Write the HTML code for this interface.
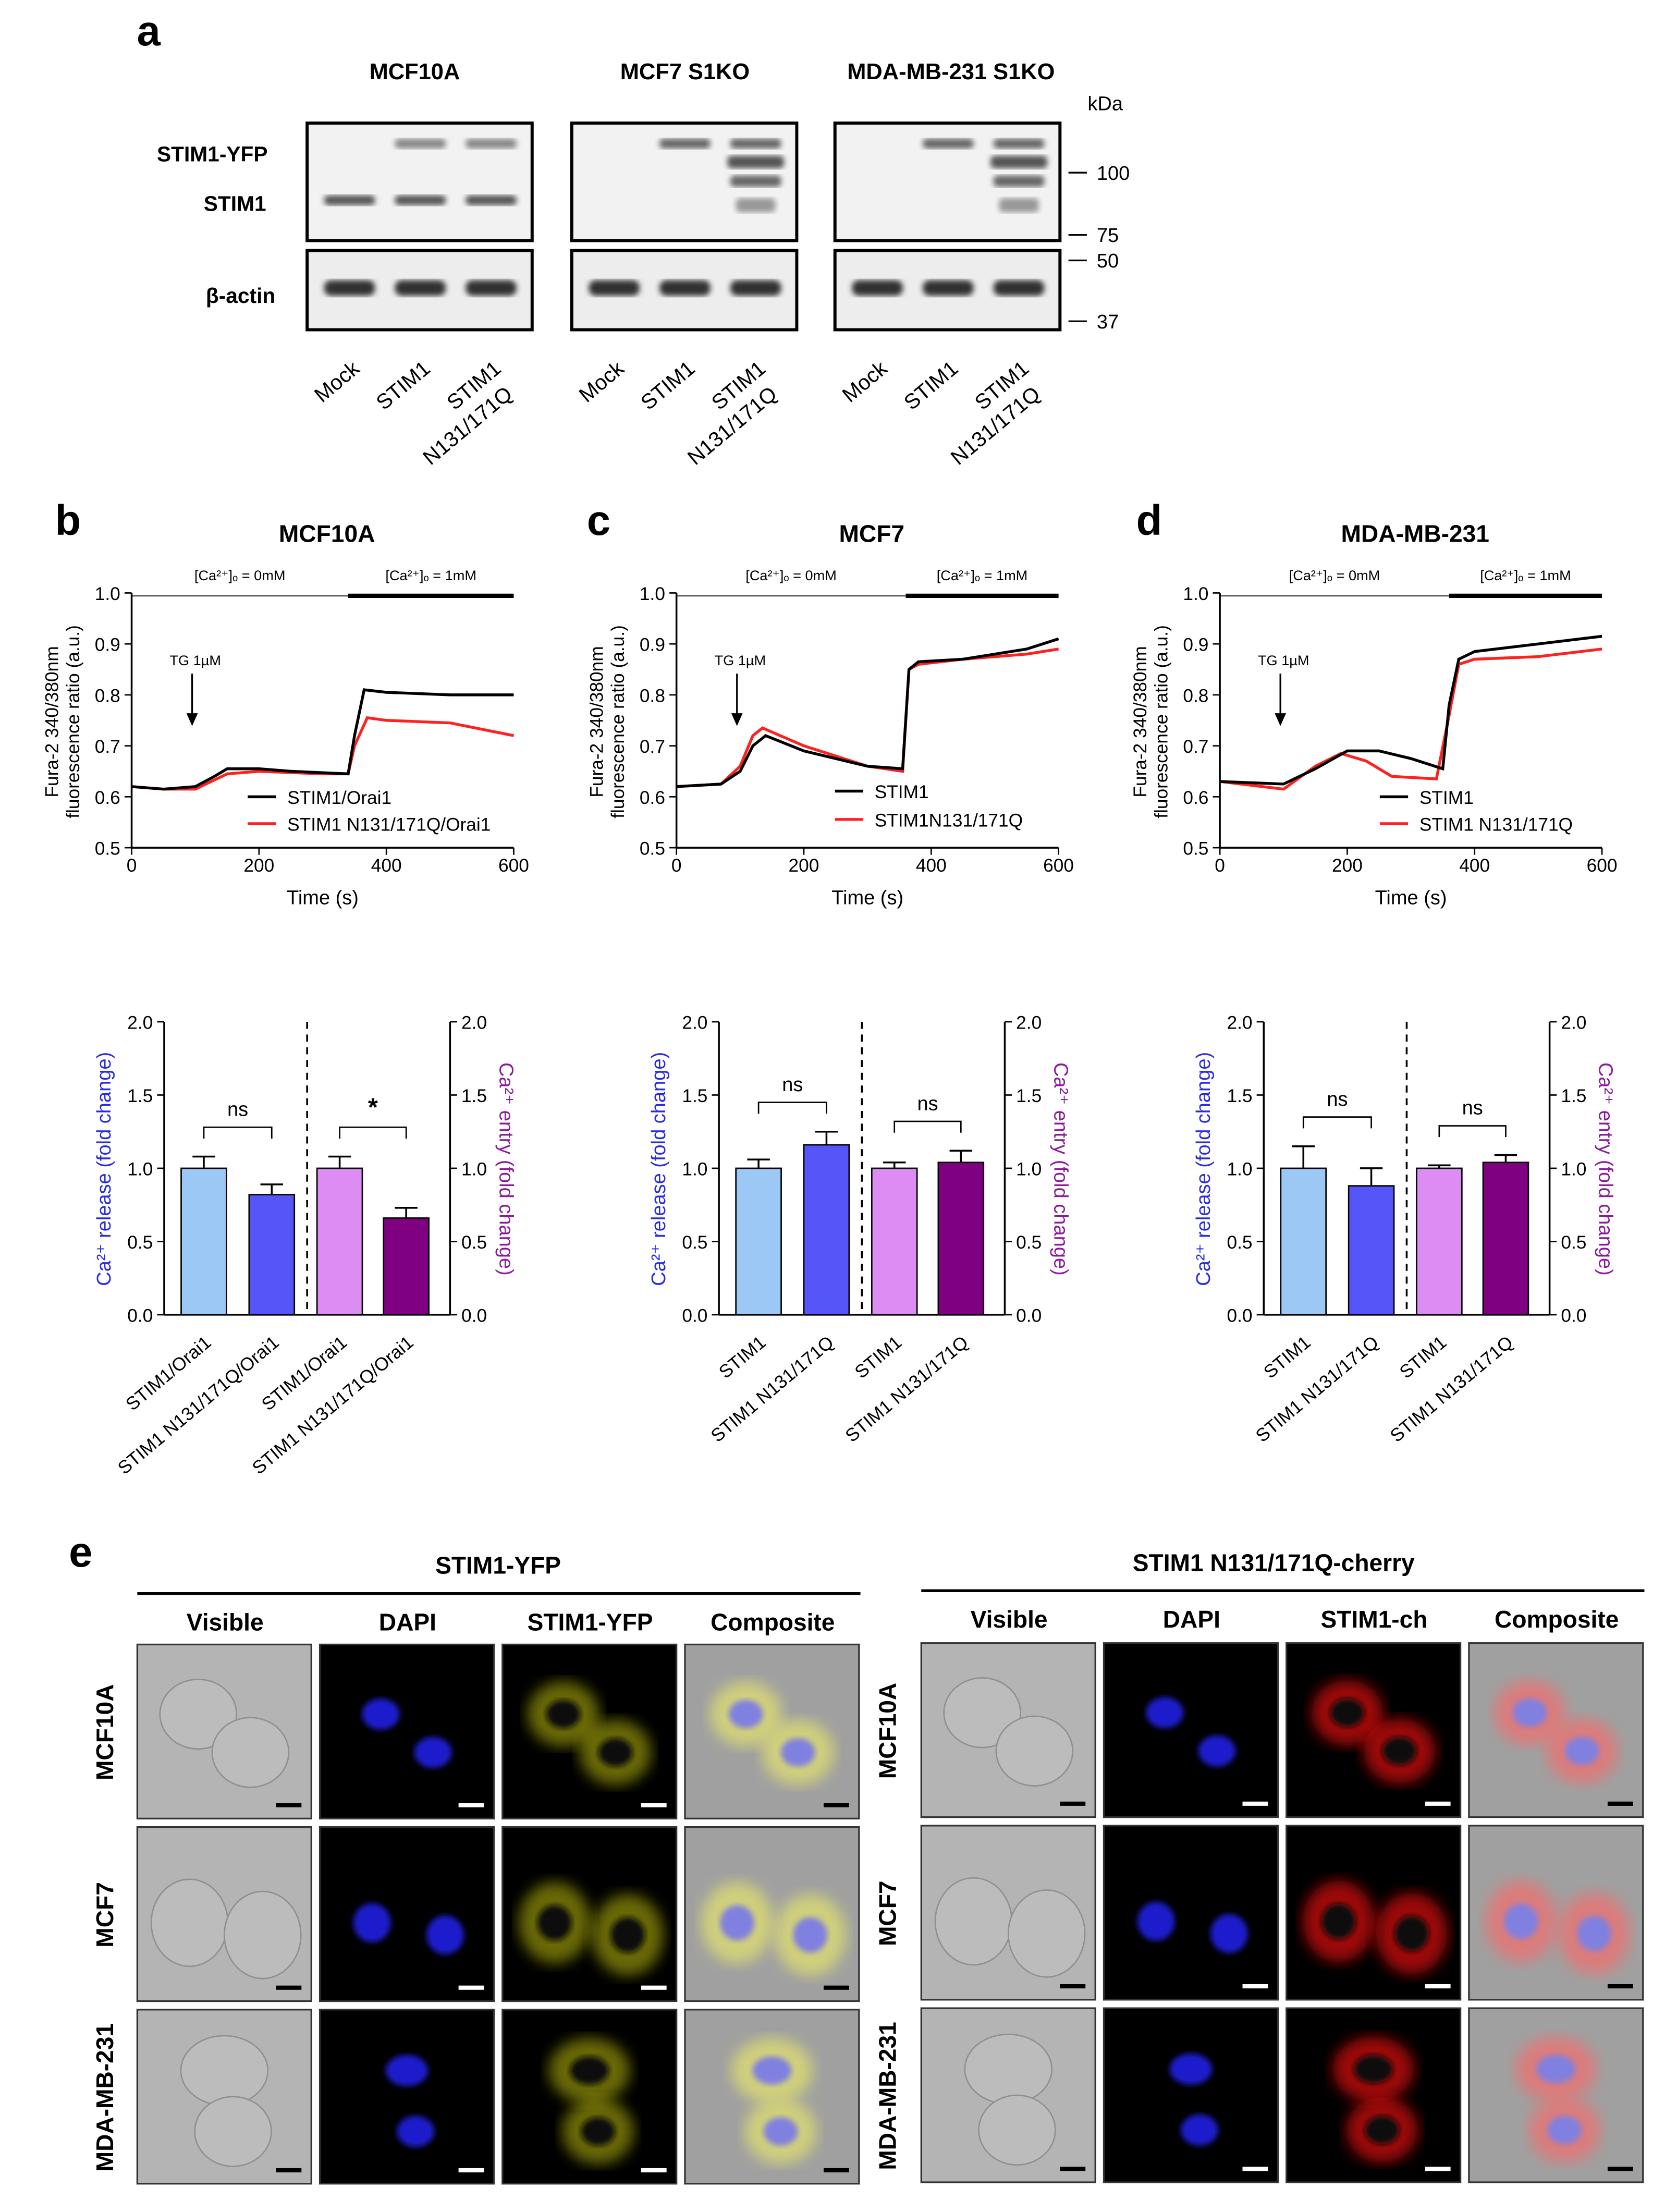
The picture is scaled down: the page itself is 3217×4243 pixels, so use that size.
<!DOCTYPE html>
<html><head><meta charset="utf-8"><style>
html,body{margin:0;padding:0;background:#fff;}
svg{display:block;font-family:"Liberation Sans",Arial,sans-serif;}
</style></head><body>
<svg id="fig" width="3217" height="4243" viewBox="0 0 1185 1563" xmlns="http://www.w3.org/2000/svg">
<defs>
<filter id="blur2"><feGaussianBlur stdDeviation="2"/></filter>
<filter id="blur4"><feGaussianBlur stdDeviation="5"/></filter>
</defs>
<rect width="1185" height="1563" fill="#fff"/>
<g id="root"></g>
</svg>
<script>
// ---------- data ----------
const traceTimes = {
  bBlack:[0,50,100,130,150,200,250,340,350,365,400,500,600],
  bRed:[0,50,100,150,200,300,340,350,370,400,500,580,600],
  cBlack:[0,70,100,120,140,200,300,355,365,380,450,550,600],
  cRed:[0,70,100,120,135,200,300,355,365,380,450,550,600],
  dBlack:[0,100,150,200,250,300,350,360,375,400,500,600],
  dRed:[0,100,150,190,230,270,340,360,375,400,500,600]
};
const traceValues = {
  bBlack:[0.62,0.615,0.62,0.64,0.655,0.655,0.65,0.645,0.72,0.81,0.805,0.80,0.80],
  bRed:[0.62,0.615,0.615,0.645,0.65,0.645,0.645,0.70,0.755,0.75,0.745,0.725,0.72],
  cBlack:[0.62,0.625,0.65,0.70,0.72,0.69,0.66,0.655,0.85,0.865,0.87,0.89,0.91],
  cRed:[0.62,0.625,0.66,0.72,0.735,0.70,0.66,0.65,0.85,0.86,0.87,0.88,0.89],
  dBlack:[0.63,0.625,0.655,0.69,0.69,0.675,0.655,0.78,0.87,0.885,0.90,0.915],
  dRed:[0.63,0.615,0.66,0.685,0.67,0.64,0.635,0.76,0.86,0.87,0.875,0.89]
};
const timeTicks=[0,200,400,600];
const ratioTicks=[0.5,0.6,0.7,0.8,0.9,1.0];
const foldTicks=[0,0.5,1.0,1.5,2.0];
const barValuesB=[1.0,0.82,1.0,0.66], barErrB=[0.08,0.07,0.08,0.07];
const barValuesC=[1.0,1.16,1.0,1.04], barErrC=[0.06,0.09,0.04,0.08];
const barValuesD=[1.0,0.88,1.0,1.04], barErrD=[0.15,0.12,0.02,0.05];
const barLabelsB=["STIM1/Orai1","STIM1 N131/171Q/Orai1","STIM1/Orai1","STIM1 N131/171Q/Orai1"];
const barLabelsC=["STIM1","STIM1 N131/171Q","STIM1","STIM1 N131/171Q"];
// ---------- helpers ----------
const NS="http://www.w3.org/2000/svg";
const root=document.getElementById('root');
function el(tag,attrs,parent,txt){const e=document.createElementNS(NS,tag);for(const k in attrs)e.setAttribute(k,attrs[k]);if(txt!==undefined)e.textContent=txt;(parent||root).appendChild(e);return e;}
function txt(x,y,s,size,opts,parent){opts=opts||{};const a={x:x,y:y,'font-size':size,fill:opts.fill||'#000','text-anchor':opts.anchor||'middle'};if(opts.bold)a['font-weight']='bold';if(opts.tr)a.transform=opts.tr;const t=el('text',a,parent,s);return t;}
// ---------- panel a ----------
txt(105,32,'a',30,{bold:true,name:'panel-a-letter'});
[[293,'MCF10A'],[484,'MCF7 S1KO'],[672,'MDA-MB-231 S1KO']].forEach(h=>txt(h[0],56,h[1],16,{bold:true,name:'blot-header'}));
txt(150,114,'STIM1-YFP',15,{bold:true,name:'stim1-yfp-label'});
txt(166,149,'STIM1',15,{bold:true,name:'stim1-label'});
txt(170,214,'β-actin',15,{bold:true,name:'actin-label'});
txt(781,78,'kDa',14,{name:'kda-label'});
[[122,'100'],[166,'75'],[184,'50'],[227,'37']].forEach(m=>{const l=el('line',{x1:755,x2:768,y1:m[0],y2:m[0],stroke:'#000','stroke-width':1.2});txt(775,m[0]+5,m[1],14,{anchor:'start',name:'marker-label'});});
const blotX=[217,404,590];
blotX.forEach((bx,bi)=>{
  const g=el('g',{});
  el('rect',{x:bx,y:87,width:159,height:83,fill:'#f2f2f2',stroke:'#000','stroke-width':2.2},g);
  el('rect',{x:bx,y:177,width:159,height:56,fill:'#ededed',stroke:'#000','stroke-width':2.2},g);
  const lanes=[bx+30,bx+80,bx+130];
  lanes.forEach((lx,li)=>{
    el('rect',{x:lx-18,y:198,width:36,height:11,rx:5,fill:'#333',filter:'url(#blur2)'},g);
    if(bi===0) el('rect',{x:lx-18,y:138,width:36,height:7,rx:3,fill:'#555',filter:'url(#blur2)'},g);
    if(li>=1){
      el('rect',{x:lx-18,y:98,width:36,height:7,rx:3,fill:bi===0?'#888':'#666',filter:'url(#blur2)'},g);
    }
    if(li===2&&bi>0){
      el('rect',{x:lx-20,y:110,width:40,height:9,rx:3,fill:'#555',filter:'url(#blur2)'},g);
      el('rect',{x:lx-18,y:124,width:36,height:8,rx:3,fill:'#666',filter:'url(#blur2)'},g);
      el('rect',{x:lx-14,y:140,width:28,height:10,rx:3,fill:'#999',filter:'url(#blur2)'},g);
    }
    const labs=li===0?['Mock']:li===1?['STIM1']:['STIM1','N131/171Q'];
    labs.forEach((s,k)=>txt(lx+8+k*8,262+k*18,s,15,{anchor:'end',tr:`rotate(-40 ${lx+8+k*8} ${262+k*18})`,name:'lane-label'},g));
  });
});
// ---------- traces ----------
const tracePanels=[
 {x0:93,letter:'b',lx:48,title:'MCF10A',series:['bBlack','bRed'],leg:['STIM1/Orai1','STIM1 N131/171Q/Orai1'],legX:175,legY:[563,582],switchT:340},
 {x0:478,letter:'c',lx:423,title:'MCF7',series:['cBlack','cRed'],leg:['STIM1','STIM1N131/171Q'],legX:590,legY:[559,579],switchT:360},
 {x0:862,letter:'d',lx:812,title:'MDA-MB-231',series:['dBlack','dRed'],leg:['STIM1','STIM1 N131/171Q'],legX:975,legY:[563,582],switchT:360}
];
tracePanels.forEach(p=>{
  const g=el('g',{});
  const X=t=>p.x0+t/600*270, Y=v=>599-(v-0.5)/0.5*180;
  txt(p.lx,378,p.letter,30,{bold:true,name:'panel-letter'},g);
  txt(p.x0+138,383,p.title,17,{bold:true,name:'chart-title'},g);
  el('line',{x1:X(0),x2:X(p.switchT),y1:421,y2:421,stroke:'#555','stroke-width':1},g);
  el('line',{x1:X(p.switchT),x2:X(600),y1:421,y2:421,stroke:'#000','stroke-width':3},g);
  txt(X(p.switchT/2),410,'[Ca²⁺]ₒ = 0mM',10,{name:'condition-label'},g);
  txt(X((p.switchT+600)/2),410,'[Ca²⁺]ₒ = 1mM',10,{name:'condition-label'},g);
  el('line',{x1:p.x0,x2:p.x0,y1:419,y2:599,stroke:'#000','stroke-width':1.3},g);
  el('line',{x1:p.x0,x2:X(600),y1:599,y2:599,stroke:'#000','stroke-width':1.3},g);
  ratioTicks.forEach(v=>{el('line',{x1:p.x0-5,x2:p.x0,y1:Y(v),y2:Y(v),stroke:'#000'},g);txt(p.x0-8,Y(v)+5,v.toFixed(1),13,{anchor:'end',name:'y-tick-label'},g);});
  timeTicks.forEach(t=>{el('line',{x1:X(t),x2:X(t),y1:599,y2:604,stroke:'#000'},g);txt(X(t),616,String(t),13,{name:'x-tick-label'},g);});
  txt(X(300),639,'Time (s)',14,{name:'x-axis-title'},g);
  txt(p.x0-52,510,'Fura-2 340/380nm',13,{tr:`rotate(-90 ${p.x0-52} 510)`,name:'y-axis-title'},g);
  txt(p.x0-37,510,'fluorescence ratio (a.u.)',13,{tr:`rotate(-90 ${p.x0-37} 510)`,name:'y-axis-title'},g);
  txt(X(100),470,'TG 1µM',10,{name:'tg-label'},g);
  el('line',{x1:X(95),x2:X(95),y1:476,y2:508,stroke:'#000','stroke-width':1.2},g);
  el('path',{d:`M${X(95)-4} 504 L${X(95)} 513 L${X(95)+4} 504 Z`,fill:'#000'},g);
  p.series.forEach((s,i)=>{
    const pts=traceTimes[s].map((t,k)=>X(t).toFixed(1)+','+Y(traceValues[s][k]).toFixed(1)).join(' ');
    const pl=el('polyline',{points:pts,fill:'none',stroke:i?'#ff2020':'#000','stroke-width':2},g);
    
    el('line',{x1:p.legX,x2:p.legX+20,y1:p.legY[i],y2:p.legY[i],stroke:i?'#ff2020':'#000','stroke-width':2},g);
    txt(p.legX+28,p.legY[i]+5,p.leg[i],13,{anchor:'start',name:'legend-entry'},g);
  });
  g.appendChild(g.querySelector('polyline'));
});
// ---------- bar charts ----------
const barPanels=[
 {ax:116,vals:barValuesB,errs:barErrB,labels:barLabelsB,sig:['ns','*']},
 {ax:508,vals:barValuesC,errs:barErrC,labels:barLabelsC,sig:['ns','ns']},
 {ax:893,vals:barValuesD,errs:barErrD,labels:barLabelsC,sig:['ns','ns']}
];
const barColors=['#9cc8f6','#5656f8','#dc8cf2','#7f0080'];
barPanels.forEach((p,pi)=>{
  const g=el('g',{});
  const Y=v=>929-v/2*207, rx=p.ax+202;
  const cx=[p.ax+28,p.ax+76,p.ax+124,p.ax+171];
  el('line',{x1:p.ax,x2:p.ax,y1:722,y2:929,stroke:'#000','stroke-width':1.3},g);
  el('line',{x1:rx,x2:rx,y1:722,y2:929,stroke:'#000','stroke-width':1.3},g);
  el('line',{x1:p.ax,x2:rx,y1:929,y2:929,stroke:'#000','stroke-width':1.3},g);
  el('line',{x1:p.ax+101,x2:p.ax+101,y1:722,y2:929,stroke:'#000','stroke-width':1.3,'stroke-dasharray':'5,4'},g);
  foldTicks.forEach(v=>{
    el('line',{x1:p.ax-5,x2:p.ax,y1:Y(v),y2:Y(v),stroke:'#000'},g);
    el('line',{x1:rx,x2:rx+5,y1:Y(v),y2:Y(v),stroke:'#000'},g);
    txt(p.ax-8,Y(v)+5,v.toFixed(1),13,{anchor:'end',name:'left-tick-label'},g);
    txt(rx+8,Y(v)+5,v.toFixed(1),13,{anchor:'start',name:'right-tick-label'},g);
  });
  p.vals.forEach((v,i)=>{
    const b=el('rect',{x:cx[i]-16,y:Y(v),width:32,height:929-Y(v),fill:barColors[i],stroke:'#000','stroke-width':1},g);
    
    const ye=Y(v+p.errs[i]);
    el('line',{x1:cx[i],x2:cx[i],y1:Y(v),y2:ye,stroke:'#000','stroke-width':1.3},g);
    el('line',{x1:cx[i]-8,x2:cx[i]+8,y1:ye,y2:ye,stroke:'#000','stroke-width':1.3},g);
    txt(cx[i]+6,950,p.labels[i],13,{anchor:'end',tr:`rotate(-40 ${cx[i]+6} 950)`,name:'bar-x-label'},g);
  });
  [0,1].forEach(k=>{
    const a=cx[2*k],b=cx[2*k+1];
    const top=Math.max(p.vals[2*k]+p.errs[2*k],p.vals[2*k+1]+p.errs[2*k+1]);
    const y=Y(Math.max(top+0.2,1.28));
    el('path',{d:`M${a} ${y+8} L${a} ${y} L${b} ${y} L${b} ${y+8}`,fill:'none',stroke:'#000','stroke-width':1},g);
    txt((a+b)/2,y-8,p.sig[k],p.sig[k]==='*'?18:14,{bold:p.sig[k]==='*',name:'significance-label'},g);
  });
  const ly=826;
  txt(p.ax-38,ly,'Ca²⁺ release (fold change)',14,{fill:'#2a2ae0',tr:`rotate(-90 ${p.ax-38} ${ly})`,name:'left-axis-title'},g);
  txt(rx+35,ly,'Ca²⁺ entry (fold change)',14,{fill:'#8a1a9a',tr:`rotate(90 ${rx+35} ${ly})`,name:'right-axis-title'},g);
});
// ---------- panel e ----------
txt(57,1107,'e',30,{bold:true,name:'panel-e-letter'});
const groups=[
 {x:[97,226,355,484],title:'STIM1-YFP',tx:352,ty:1112,line:1126,cols:['Visible','DAPI','STIM1-YFP','Composite'],cy:1152,rows:[1162,1291,1420],rl:80,fc:'#bfbf10',cc:'#e0e070'},
 {x:[651,780,909,1038],title:'STIM1 N131/171Q-cherry',tx:900,ty:1110,line:1124,cols:['Visible','DAPI','STIM1-ch','Composite'],cy:1150,rows:[1161,1290,1419],rl:633,fc:'#e01010',cc:'#f07070'}
];
const rowNames=['MCF10A','MCF7','MDA-MB-231'];
const blobs=[[[0.35,0.4,0.22,0.2],[0.65,0.62,0.22,0.2]],[[0.3,0.55,0.22,0.25],[0.72,0.62,0.22,0.25]],[[0.5,0.35,0.25,0.2],[0.55,0.7,0.22,0.2]]];
groups.forEach((gr,gi)=>{
  const g=el('g',{});
  txt(gr.tx,gr.ty,gr.title,17,{bold:true,name:'group-title'},g);
  el('line',{x1:gr.x[0],x2:gr.x[3]+124,y1:gr.line,y2:gr.line,stroke:'#000','stroke-width':2},g);
  gr.cols.forEach((c,i)=>txt(gr.x[i]+62,gr.cy,c,17,{bold:true,name:'column-label'},g));
  gr.rows.forEach((ry,ri)=>{
    txt(gr.rl,ry+62,rowNames[ri],17,{bold:true,tr:`rotate(-90 ${gr.rl} ${ry+62})`,name:'row-label'},g);
    gr.x.forEach((cx,ci)=>{
      const cell=el('g',{},g);
      const bg=ci===0?'#b4b4b4':ci===3?'#a0a0a0':'#000';
      el('rect',{x:cx,y:ry,width:123,height:123,fill:bg},cell);
      blobs[ri].forEach(b=>{
        const ex=cx+b[0]*123,ey=ry+b[1]*123;
        if(ci===0) el('ellipse',{cx:ex,cy:ey,rx:b[2]*123,ry:b[3]*123,fill:'#bcbcbc',stroke:'#909090','stroke-width':1},cell);
        if(ci===1) el('ellipse',{cx:ex,cy:ey,rx:b[2]*60,ry:b[3]*55,fill:'#1a1acc',filter:'url(#blur2)'},cell);
        if(ci===2||ci===3){
          el('ellipse',{cx:ex,cy:ey,rx:b[2]*115,ry:b[3]*115,fill:ci===3?gr.cc:gr.fc,opacity:ci===3?0.75:(gi?0.7:0.55),filter:'url(#blur4)'},cell);
          el('ellipse',{cx:ex,cy:ey,rx:b[2]*55,ry:b[3]*50,fill:ci===3?'#8080e0':'#111',filter:'url(#blur2)'},cell);
        }
      });
      el('rect',{x:cx,y:ry,width:123,height:123,fill:'none',stroke:'#333','stroke-width':1.2},cell);
      el('rect',{x:cx+98,y:ry+112,width:18,height:3,fill:(ci===0||ci===3)?'#000':'#fff'},cell);
    });
  });
});
</script>
</body></html>
